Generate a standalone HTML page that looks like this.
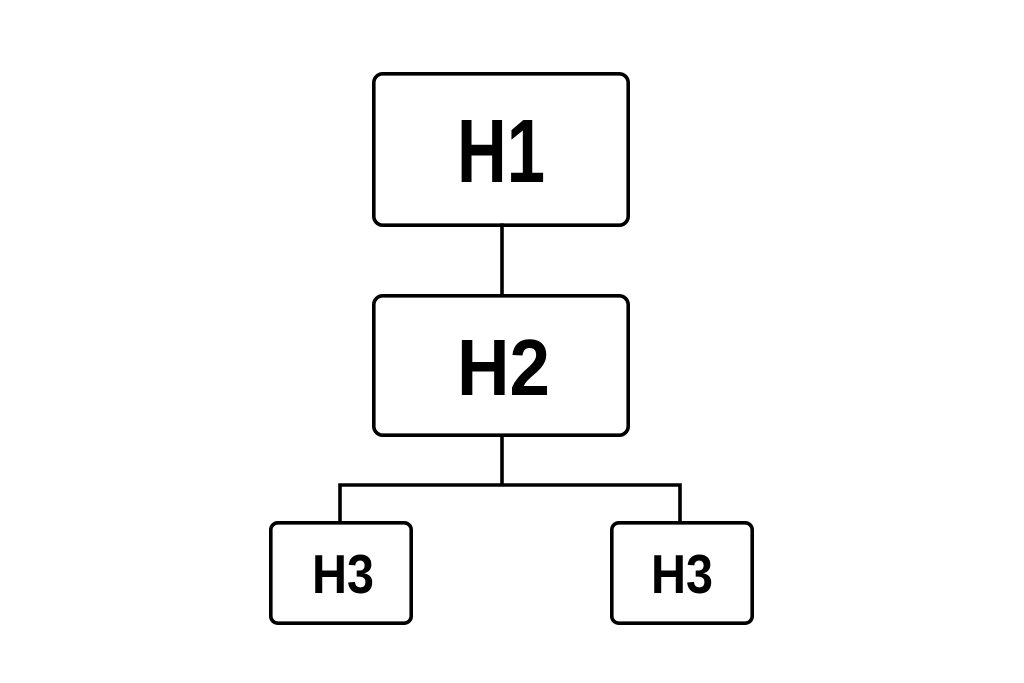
<!DOCTYPE html>
<html><head><style>html,body{margin:0;padding:0;background:#fff}svg{display:block}</style></head>
<body>
<svg width="1024" height="683" viewBox="0 0 1024 683" xmlns="http://www.w3.org/2000/svg">
<g fill="none" stroke="#000" stroke-width="3.6">
<rect x="373.8" y="73.8" width="254.4" height="151.4" rx="9"/>
<rect x="373.8" y="295.8" width="254.4" height="139.4" rx="9"/>
<rect x="270.8" y="522.8" width="140.4" height="100.4" rx="7"/>
<rect x="611.8" y="522.8" width="140.4" height="100.4" rx="7"/>
<path d="M502 225V295M502 437V485M340 485H680M340 485V522M680 485V522" stroke-linecap="square"/>
</g>
<g font-family="Liberation Sans, sans-serif" font-weight="bold" fill="#000">
<text x="457" y="182" font-size="90" textLength="88" lengthAdjust="spacingAndGlyphs">H1</text>
<text x="457" y="395" font-size="80" textLength="93" lengthAdjust="spacingAndGlyphs">H2</text>
<text x="312" y="593" font-size="55" textLength="62" lengthAdjust="spacingAndGlyphs">H3</text>
<text x="651" y="593" font-size="55" textLength="62" lengthAdjust="spacingAndGlyphs">H3</text>
</g>
</svg>
</body></html>
